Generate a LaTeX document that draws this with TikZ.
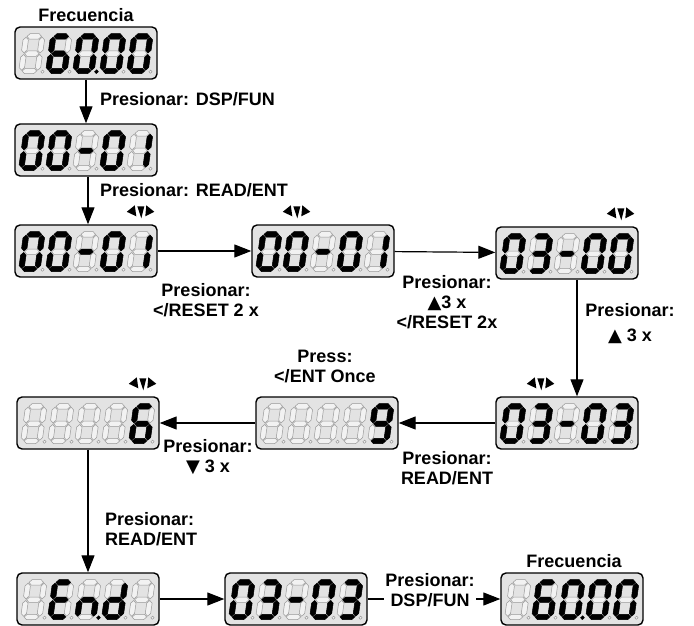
\documentclass[tikz,border=0pt]{standalone}
\usepackage{fontspec}
\setmainfont{Liberation Sans}
\newfontfamily\symfont{DejaVu Sans}
\usetikzlibrary{arrows.meta,positioning}

% segments of one digit, origin at its lower left corner
\newcommand{\lcdseg}[1]{}
\newcommand{\lcdsega}[1]{\path[#1] (3.5,-37.3)--(6.2,-40)--(15.3,-40)--(18,-37.3)--(15.3,-34.6)--(6.2,-34.6)--cycle;}
\newcommand{\lcdsegg}[1]{\path[#1] (3.5,-20)--(6.2,-22.7)--(15.3,-22.7)--(18,-20)--(15.3,-17.3)--(6.2,-17.3)--cycle;}
\newcommand{\lcdsegd}[1]{\path[#1] (3.5,-2.7)--(6.2,-5.4)--(15.3,-5.4)--(18,-2.7)--(15.3,0)--(6.2,0)--cycle;}
\newcommand{\lcdsegf}[1]{\path[#1] (2.7,-36.5)--(5.4,-33.8)--(5.4,-23.5)--(2.7,-20.8)--(0,-23.5)--(0,-33.8)--cycle;}
\newcommand{\lcdsegb}[1]{\path[#1] (18.8,-36.5)--(21.5,-33.8)--(21.5,-23.5)--(18.8,-20.8)--(16.1,-23.5)--(16.1,-33.8)--cycle;}
\newcommand{\lcdsege}[1]{\path[#1] (2.7,-19.2)--(5.4,-16.5)--(5.4,-6.2)--(2.7,-3.5)--(0,-6.2)--(0,-16.5)--cycle;}
\newcommand{\lcdsegc}[1]{\path[#1] (18.8,-19.2)--(21.5,-16.5)--(21.5,-6.2)--(18.8,-3.5)--(16.1,-6.2)--(16.1,-16.5)--cycle;}

% five digits in a display node, #3 = lit decimal point
\newcommand{\lcdshow}[3]{%
  \foreach \segs [count=\k] in {#2} {
    \begin{scope}[shift={(#1.south west)}, shift={(27*\k-23,-6)}, xslant=0.14]
      \foreach \s in {a,b,c,d,e,f,g} {\csname lcdseg\s\endcsname{segoff}}
      \foreach \s in \segs {\csname lcdseg\s\endcsname{segon}}
      \ifnum\k=#3\relax \path[segon] (23.9,-2) circle (1.9);
      \else \path[segoff] (23.9,-2) circle (1.6); \fi
    \end{scope}}}

\begin{document}
\begin{tikzpicture}[
  x=1pt, y=-1pt,
  lcdbox/.style={draw, line width=1.4pt, rounded corners=5pt, fill=black!11,
                 minimum width=142pt, minimum height=52pt, inner sep=0pt},
  segon/.style={fill=black, draw=black, line width=0.5pt},
  segoff/.style={fill=black!5, draw=black!40, line width=0.5pt},
  lbl/.style={font=\fontsize{18}{20}\selectfont\bfseries, align=center, inner sep=0pt},
  arrow/.style={-{Triangle[length=17pt,width=13pt]}, line width=1.2pt},
  blink/.pic={\fill (-3,-6)--(4,-6)--(1,6)--cycle;
              \fill (-13.5,-0.5)--(-5.5,-7)--(-4,4)--cycle;
              \fill (14,-0.5)--(6,-7)--(5,4)--cycle;}
]
\useasboundingbox (0,0) rectangle (694,626);

\node[lcdbox] (d1) at (86,53) {};
\node[lcdbox] (d2) at (86,150) {};
\node[lcdbox] (d3) at (86,251) {};
\node[lcdbox] (d4) at (323,251) {};
\node[lcdbox] (d5) at (567,253) {};
\node[lcdbox] (d6) at (567,423) {};
\node[lcdbox] (d7) at (327,423) {};
\node[lcdbox] (d8) at (88,423) {};
\node[lcdbox] (d9) at (88,599) {};
\node[lcdbox] (d10) at (296,599) {};
\node[lcdbox] (d11) at (572,599) {};

\lcdshow{d1}{{},{a,c,d,e,f,g},{a,b,c,d,e,f},{a,b,c,d,e,f},{a,b,c,d,e,f}}{3}
\lcdshow{d2}{{a,b,c,d,e,f},{a,b,c,d,e,f},{g},{a,b,c,d,e,f},{b,c}}{0}
\lcdshow{d3}{{a,b,c,d,e,f},{a,b,c,d,e,f},{g},{a,b,c,d,e,f},{b,c}}{0}
\lcdshow{d4}{{a,b,c,d,e,f},{a,b,c,d,e,f},{g},{a,b,c,d,e,f},{b,c}}{0}
\lcdshow{d5}{{a,b,c,d,e,f},{a,b,c,d,g},{g},{a,b,c,d,e,f},{a,b,c,d,e,f}}{0}
\lcdshow{d6}{{a,b,c,d,e,f},{a,b,c,d,g},{g},{a,b,c,d,e,f},{a,b,c,d,g}}{0}
\lcdshow{d7}{{},{},{},{},{a,b,c,d,f,g}}{0}
\lcdshow{d8}{{},{},{},{},{a,c,d,e,f,g}}{0}
\lcdshow{d9}{{},{a,d,e,f,g},{c,e,g},{b,c,d,e,g},{}}{3}
\lcdshow{d10}{{a,b,c,d,e,f},{a,b,c,d,g},{g},{a,b,c,d,e,f},{a,b,c,d,g}}{0}
\lcdshow{d11}{{},{a,c,d,e,f,g},{a,b,c,d,e,f},{a,b,c,d,e,f},{a,b,c,d,e,f}}{3}

% blinking digit marks
\path (d3.north west) ++(126,-12) pic {blink};
\path (d4.north west) ++(45,-12) pic {blink};
\path (d5.north west) ++(125,-12) pic {blink};
\path (d6.north west) ++(45,-12) pic {blink};
\path (d8.north west) ++(126,-12) pic {blink};

\node[lbl] (f1) at (86,15) {Frecuencia};
\node[lbl] (f2) at (574,561) {Frecuencia};
\node[lbl, anchor=west] (t1) at (100,99) {Presionar: DSP/FUN};
\node[lbl, anchor=west] (t2) at (100,190) {Presionar: READ/ENT};
\node[lbl] (t3) at (206,300) {Presionar:\\</RESET 2 x};
\node[lbl] (t4) at (447,302) {Presionar:\\{\symfont ▲}3 x\\</RESET 2x};
\node[lbl] (t5) at (630,324) {Presionar:\\[5pt]{\symfont ▲} 3 x};
\node[lbl] (t6) at (447,468) {Presionar:\\READ/ENT};
\node[lbl] (t7) at (325,366) {Press:\\</ENT Once};
\node[lbl] (t8) at (208,457) {Presionar:\\{\symfont ▼} 3 x};
\node[lbl, align=left, anchor=west] (t9) at (105,529) {Presionar:\\READ/ENT};

\draw[arrow] (d1) -- (d2);
\draw[arrow] ([xshift=2pt]d2.south) -- ([xshift=2pt]d3.north);
\draw[arrow] (d3) -- (d4);
\draw[arrow] (d4) -- (d5);
\draw[arrow] ([xshift=10pt]d5.south) -- ([xshift=10pt]d6.north);
\draw[arrow] (d6) -- (d7);
\draw[arrow] (d7) -- (d8);
\draw[arrow] (d8) -- (d8 |- d9.north);
\draw[arrow] (d9) -- (d10);
\draw[arrow] (d10) -- (d11);
\node[lbl, fill=white, inner sep=1pt] (t10) at (430,590) {Presionar:\\DSP/FUN};
\end{tikzpicture}
\end{document}
